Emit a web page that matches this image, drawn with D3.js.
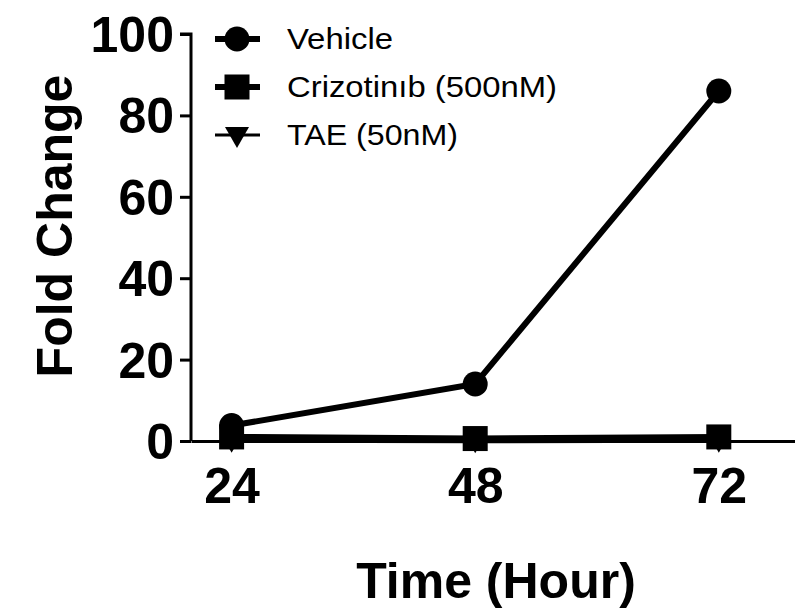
<!DOCTYPE html>
<html>
<head>
<meta charset="utf-8">
<script src="https://cdn.jsdelivr.net/npm/d3@7"></script>
<style>
  body { margin: 0; background: #fff; }
  text { font-family: Arial, "Liberation Sans", sans-serif; fill: #000; }
</style>
</head>
<body>
<div id="chart"></div>
<script>
// data
const hours = [24, 48, 72];
const vehicle = [3.8, 14, 86];
const crizotinib = [1.0, 0.6, 1.0];
const tae = [0.3, 0.2, 0.3];
const yTicks = [0, 20, 40, 60, 80, 100];
const seriesNames = ["Vehicle", "Crizotin\u0131b (500nM)", "TAE (50nM)"];
const seriesShapes = ["circle", "square", "triangle"];
const legendWidths = [106, 270, 171];

const W = 795, H = 612;
const svg = d3.select("#chart").append("svg")
    .attr("width", W).attr("height", H);

// scales
const x = d3.scaleLinear().domain([20, 80]).range([191, 800]);
const y = d3.scaleLinear().domain([0, 100]).range([441, 34]);

// marker drawing
function marker(g, shape, cx, cy) {
    if (shape === "circle") {
        g.append("circle").attr("cx", cx).attr("cy", cy).attr("r", 12.5);
    } else if (shape === "square") {
        g.append("rect").attr("x", cx - 12.5).attr("y", cy - 12.5)
            .attr("width", 25).attr("height", 25);
    } else {
        g.append("path")
            .attr("d", `M${cx - 12},${cy - 8} L${cx + 12},${cy - 8} L${cx},${cy + 13} Z`);
    }
}

// axes
const yAxis = svg.append("g")
    .attr("transform", "translate(191,0)")
    .call(d3.axisLeft(y).tickValues(yTicks).tickSize(11).tickPadding(6));
yAxis.select(".domain").attr("d", `M-11,${y(100)}H0V${y(0)}`).attr("stroke-width", 3);
yAxis.selectAll(".tick line").attr("stroke-width", 3);
yAxis.selectAll(".tick text")
    .style("font-size", "50px").style("font-weight", "bold")
    .attr("dy", "0.35em");

const xAxis = svg.append("g")
    .attr("transform", `translate(0,${y(0)})`)
    .call(d3.axisBottom(x).tickValues(hours).tickSize(0).tickPadding(14));
xAxis.select(".domain").attr("stroke-width", 3);
xAxis.selectAll(".tick text")
    .style("font-size", "50px").style("font-weight", "bold")
    .attr("dy", "0.95em");

// axis titles
svg.append("text")
    .attr("x", 496).attr("y", 598)
    .attr("text-anchor", "middle")
    .style("font-size", "50px").style("font-weight", "bold")
    .text("Time (Hour)");

svg.append("text")
    .attr("transform", "translate(72,226) rotate(-90)")
    .attr("text-anchor", "middle")
    .style("font-size", "50px").style("font-weight", "bold")
    .text("Fold Change");

// series
const line = d3.line().x((d, i) => x(hours[i])).y(d => y(d));
const allSeries = [vehicle, crizotinib, tae];

allSeries.slice().reverse().forEach((vals, k) => {
    const idx = allSeries.length - 1 - k;
    const g = svg.append("g").attr("fill", "#000");
    g.append("path").datum(vals)
        .attr("d", line)
        .attr("fill", "none").attr("stroke", "#000").attr("stroke-width", 6);
    vals.forEach((v, i) => marker(g, seriesShapes[idx], x(hours[i]), y(v)));
});

// legend
const legend = svg.append("g").attr("class", "legend");
seriesNames.forEach((name, i) => {
    const ly = 39 + i * 48;
    const g = legend.append("g").attr("fill", "#000");
    g.append("line").attr("x1", 215).attr("x2", 260).attr("y1", ly).attr("y2", ly)
        .attr("stroke", "#000").attr("stroke-width", i === 2 ? 3 : 6);
    marker(g, seriesShapes[i], 237, ly);
    g.append("text").attr("x", 287).attr("y", ly + 10)
        .attr("textLength", legendWidths[i]).attr("lengthAdjust", "spacingAndGlyphs")
        .style("font-size", "29px").text(name);
});
</script>
</body>
</html>
